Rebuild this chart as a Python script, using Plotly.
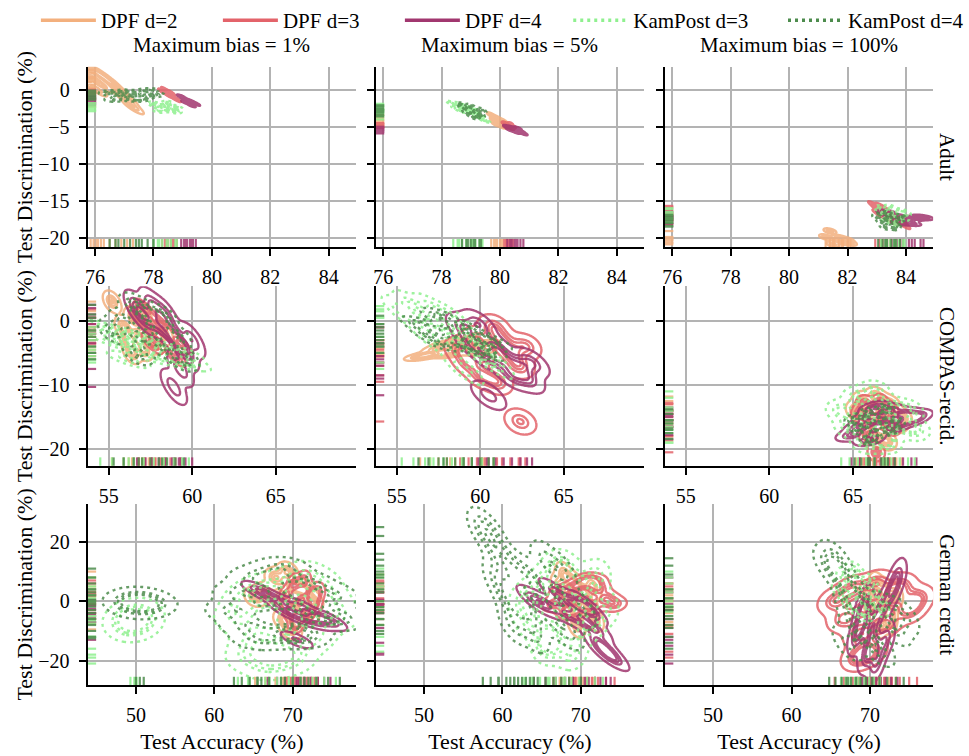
import numpy as np
import plotly.graph_objects as go
from plotly.subplots import make_subplots

# ---------------- labels / styles ----------------
SERIES = ["DPF d=2", "DPF d=3", "DPF d=4", "KamPost d=3", "KamPost d=4"]
COLORS = ["#f3b07e", "#e3636a", "#a1376f", "#8ff08f", "#4d8c4d"]
DASHES = ["solid", "solid", "solid", "3px,4px", "3px,4px"]
LEGEND_OF = ["legend", "legend", "legend", "legend2", "legend3"]

BIAS_TITLES = ["Maximum bias = 1%", "Maximum bias = 5%", "Maximum bias = 100%"]
DATASETS = ["Adult", "COMPAS-recid.", "German credit"]
X_TITLE = "Test Accuracy (%)"
Y_TITLE = "Test Discrimination (%)"

adult_x_ticks = [76, 78, 80, 82, 84]
adult_y_ticks = [0, -5, -10, -15, -20]
compas_x_ticks = [55, 60, 65]
compas_y_ticks = [0, -10, -20]
german_x_ticks = [50, 60, 70]
german_y_ticks = [20, 0, -20]

adult_x_range = [75.75, 84.93]
adult_y_range = [-21.2, 3.2]
compas_x_range = [53.75, 69.8]
compas_y_range = [-22.6, 5.4]
german_x_range = [43.86, 78.05]
german_y_range = [-28.3, 32.9]

# ---------------- data: (accuracy, discrimination) per run ----------------
# Adult, max bias 1%
adult_b1_dpf2_acc = [75.85, 75.95, 76.1, 76.3, 76.2, 76.5, 76.7, 76.9, 77.1, 77.3, 76.05]
adult_b1_dpf2_disc = [2.8, 1.6, 2.4, 1.8, 0.8, 1.2, 0.4, -0.4, -1.2, -2.2, 0.2]
adult_b1_dpf3_acc = [78.3, 78.4, 78.5, 78.6, 78.7, 78.8, 78.45, 78.65]
adult_b1_dpf3_disc = [-0.1, 0.1, -0.6, -0.3, -1.0, -1.2, -0.4, -0.8]
adult_b1_dpf4_acc = [78.95, 79.05, 79.15, 79.25, 79.35, 79.45, 79.1, 79.3]
adult_b1_dpf4_disc = [-0.8, -1.1, -1.3, -1.4, -1.6, -1.8, -1.6, -2.0]
adult_b1_kam3_acc = [78.0, 78.15, 78.3, 78.45, 78.6, 78.75, 78.2, 78.5, 78.8]
adult_b1_kam3_disc = [-1.8, -2.3, -2.0, -2.6, -2.2, -2.8, -2.7, -1.7, -2.4]
adult_b1_kam4_acc = [76.5, 76.8, 77.0, 77.2, 77.4, 77.6, 77.8, 78.0, 76.7, 77.5]
adult_b1_kam4_disc = [-0.3, -0.8, -0.2, -1.0, -0.4, -0.9, 0.0, -0.6, -1.2, -1.2]

# Adult, max bias 5%
adult_b5_dpf2_acc = [79.7, 79.8, 79.9, 80.0, 80.1, 80.2, 79.85, 80.05, 80.25]
adult_b5_dpf2_disc = [-3.3, -4.0, -3.7, -4.3, -4.1, -4.6, -4.5, -4.8, -4.9]
adult_b5_dpf3_acc = [80.15, 80.25, 80.35, 80.45, 80.2, 80.4, 80.3]
adult_b5_dpf3_disc = [-4.4, -4.6, -4.5, -4.9, -4.9, -5.1, -4.8]
adult_b5_dpf4_acc = [80.25, 80.4, 80.5, 80.6, 80.7, 80.8, 80.35, 80.55]
adult_b5_dpf4_disc = [-4.9, -5.0, -5.3, -5.1, -5.5, -5.8, -5.3, -5.6]
adult_b5_kam3_acc = [78.4, 78.55, 78.7, 78.85, 79.0, 79.15, 79.3, 79.4, 78.6, 79.05]
adult_b5_kam3_disc = [-1.8, -2.2, -2.0, -2.6, -2.9, -3.1, -3.5, -3.9, -2.6, -2.5]
adult_b5_kam4_acc = [78.7, 78.85, 79.0, 79.15, 79.3, 78.9, 79.1, 79.35]
adult_b5_kam4_disc = [-2.0, -2.5, -2.2, -2.8, -3.3, -3.0, -3.5, -2.7]

# Adult, max bias 100%
adult_b100_dpf2_acc = [81.25, 81.4, 81.55, 81.7, 81.85, 82.0, 82.1, 81.5, 81.8]
adult_b100_dpf2_disc = [-19.8, -19.0, -20.2, -19.9, -20.5, -20.2, -20.6, -20.8, -20.0]
adult_b100_dpf3_acc = [82.95, 83.1, 83.2, 83.35, 83.5, 83.65, 83.8, 83.9, 83.1, 83.45]
adult_b100_dpf3_disc = [-15.6, -16.2, -15.8, -16.6, -16.9, -17.3, -17.6, -18.1, -16.7, -17.5]
adult_b100_dpf4_acc = [83.3, 83.5, 83.7, 83.9, 84.1, 84.3, 84.5, 84.6, 83.8, 84.2]
adult_b100_dpf4_disc = [-16.4, -16.9, -17.0, -17.4, -17.6, -17.3, -17.1, -17.2, -17.9, -18.0]
adult_b100_kam3_acc = [83.15, 83.3, 83.45, 83.6, 83.75, 83.9, 83.35, 83.65, 83.95]
adult_b100_kam3_disc = [-16.0, -16.5, -15.9, -16.8, -16.4, -17.2, -17.4, -17.8, -16.6]
adult_b100_kam4_acc = [83.05, 83.2, 83.35, 83.5, 83.65, 83.8, 83.3, 83.6]
adult_b100_kam4_disc = [-17.0, -17.6, -16.8, -17.4, -17.9, -17.2, -18.3, -18.4]

# COMPAS, max bias 1%
compas_b1_dpf2_acc = [55.2, 55.9, 56.2, 56.5, 56.8, 57.1, 57.4, 57.8, 58.3, 56.4, 57.0]
compas_b1_dpf2_disc = [3.0, -1.0, -3.0, 0.5, -2.5, -4.5, -1.5, -3.5, -2.0, -5.0, 1.5]
compas_b1_dpf3_acc = [56.8, 57.2, 57.5, 57.8, 58.1, 58.4, 58.7, 59.0, 59.3, 57.6]
compas_b1_dpf3_disc = [0.5, 1.8, -1.0, -2.0, -0.5, -3.0, -4.0, -5.5, -3.5, -3.5]
compas_b1_dpf4_acc = [56.7, 57.2, 57.6, 58.0, 58.4, 58.8, 59.2, 59.6, 60.0, 59.3, 58.9]
compas_b1_dpf4_disc = [2.0, 0.5, 2.5, -0.5, 1.0, -2.0, -3.5, -5.0, -3.0, -7.5, -10.3]
compas_b1_kam3_acc = [54.5, 55.2, 55.9, 56.5, 57.1, 57.7, 58.3, 58.9, 59.4, 59.8, 56.2]
compas_b1_kam3_disc = [-1.0, -3.0, -2.0, -4.0, -3.0, -5.5, -4.5, -6.0, -5.0, -6.5, -6.0]
compas_b1_kam4_acc = [55.3, 55.9, 56.5, 57.0, 57.5, 58.0, 58.5, 59.0, 59.5, 56.8, 58.2]
compas_b1_kam4_disc = [-1.5, 0.0, 2.5, -2.5, 1.0, -1.5, -4.0, -2.5, -6.0, -5.0, 0.5]

# COMPAS, max bias 5%
compas_b5_dpf2_acc = [56.4, 57.0, 57.5, 58.0, 58.5, 59.0, 59.5, 60.0, 58.2, 60.2]
compas_b5_dpf2_disc = [-5.6, -5.2, -4.3, -3.6, -4.2, -3.0, -4.0, -4.8, -5.2, -3.6]
compas_b5_dpf3_acc = [58.8, 59.3, 59.8, 60.3, 60.8, 61.3, 61.8, 62.3, 62.7, 60.1, 61.0, 62.4]
compas_b5_dpf3_disc = [-4.5, -6.5, -3.0, -5.5, -1.0, -3.0, -5.0, -7.0, -4.0, -8.5, -9.5, -15.7]
compas_b5_dpf4_acc = [59.0, 59.5, 59.9, 60.4, 60.9, 61.4, 61.9, 62.4, 62.8, 63.1, 60.5]
compas_b5_dpf4_disc = [-1.0, -3.5, -0.5, -5.5, -4.0, -6.0, -8.5, -7.0, -9.0, -6.5, -11.6]
compas_b5_kam3_acc = [55.3, 56.0, 56.7, 57.2, 57.8, 58.3, 58.9, 59.5, 60.1, 60.8, 57.0, 59.0]
compas_b5_kam3_disc = [1.5, 2.3, 0.5, 1.8, -0.5, 0.5, -2.5, -4.0, -5.0, -6.5, -2.5, -7.5]
compas_b5_kam4_acc = [56.3, 56.9, 57.5, 58.0, 58.5, 59.0, 59.5, 60.0, 60.5, 60.8, 57.8]
compas_b5_kam4_disc = [-0.5, -2.0, 0.8, -1.5, -3.0, -1.0, -4.0, -2.5, -5.0, -3.5, -3.5]

# COMPAS, max bias 100%
compas_b100_dpf2_acc = [65.2, 65.6, 66.0, 66.4, 66.8, 67.2, 67.6, 67.9, 66.2, 67.0]
compas_b100_dpf2_disc = [-14.0, -12.5, -15.5, -11.8, -14.5, -13.0, -16.0, -15.0, -18.0, -18.7]
compas_b100_dpf3_acc = [65.4, 65.7, 66.0, 66.3, 66.6, 66.9, 67.2, 67.4, 66.4, 65.9]
compas_b100_dpf3_disc = [-14.5, -13.0, -16.0, -14.0, -12.8, -15.5, -14.0, -16.5, -20.5, -18.0]
compas_b100_dpf4_acc = [64.9, 65.4, 65.9, 66.3, 66.7, 67.1, 67.5, 68.0, 68.5, 68.8, 66.0]
compas_b100_dpf4_disc = [-17.8, -16.5, -15.0, -13.5, -15.5, -14.0, -16.5, -14.5, -15.5, -14.8, -18.5]
compas_b100_kam3_acc = [64.3, 64.8, 65.3, 65.8, 66.3, 66.8, 67.3, 67.8, 68.3, 68.7, 65.8, 67.0]
compas_b100_kam3_disc = [-14.0, -16.5, -12.0, -15.5, -11.0, -17.5, -13.5, -16.0, -14.0, -17.0, -19.0, -19.0]
compas_b100_kam4_acc = [65.1, 65.5, 65.9, 66.3, 66.7, 67.1, 67.5, 66.0, 66.9]
compas_b100_kam4_disc = [-15.5, -16.8, -14.5, -17.5, -15.5, -17.0, -16.0, -18.4, -13.8]

# German credit, max bias 1%
german_b1_dpf2_acc = [65.2, 66.5, 67.8, 68.6, 69.3, 70.0, 70.7, 71.4, 72.0, 72.5, 69.8, 68.9]
german_b1_dpf2_disc = [1.5, 3.0, 8.0, 2.0, 10.0, 5.0, -1.0, 4.0, -4.0, 0.0, -9.5, -6.0]
german_b1_dpf3_acc = [69.2, 69.7, 70.2, 70.6, 71.0, 71.4, 71.8, 72.3, 72.8, 73.2, 70.4]
german_b1_dpf3_disc = [2.0, -3.0, 6.0, -6.0, 0.0, 7.0, -4.0, 2.5, -1.0, 3.0, -7.5]
german_b1_dpf4_acc = [65.5, 66.8, 68.0, 69.0, 70.0, 70.8, 71.5, 72.3, 73.2, 74.0, 74.8, 70.5]
german_b1_dpf4_disc = [4.0, 2.0, 0.5, -2.5, -4.0, -1.5, -6.0, -4.5, -7.0, -5.5, -7.0, -13.0]
german_b1_kam3_acc = [49.3, 50.1, 49.8, 63.0, 64.3, 65.5, 66.5, 68.0, 69.5, 71.0, 72.5, 74.0, 75.5, 67.0, 70.0, 73.0, 64.5, 68.5]
german_b1_kam3_disc = [-6.5, -5.0, -7.5, -5.0, 1.0, -12.0, 4.0, -16.0, -6.0, 8.0, -12.0, 0.0, -5.0, -21.0, -19.0, 5.0, -18.0, 2.0]
german_b1_kam4_acc = [50.0, 51.0, 50.5, 62.5, 63.5, 64.5, 65.5, 67.0, 68.5, 70.0, 71.5, 73.0, 74.5, 76.0, 66.0, 71.0, 69.0, 72.0]
german_b1_kam4_disc = [0.5, -0.5, -1.8, -3.0, 3.0, -8.0, 8.0, -1.0, 11.0, -10.0, 6.0, -4.0, 2.0, -6.0, -12.5, -12.0, 4.0, 0.0]

# German credit, max bias 5%
german_b5_dpf2_acc = [67.3, 67.9, 68.5, 69.1, 69.7, 70.3, 70.9, 71.5, 71.8, 69.4]
german_b5_dpf2_disc = [5.0, 9.0, 0.0, 6.0, -4.0, 3.0, -1.0, 5.0, -6.0, -8.0]
german_b5_dpf3_acc = [66.5, 67.5, 68.5, 69.3, 70.0, 70.7, 71.4, 72.2, 73.2, 74.3, 69.0, 71.8]
german_b5_dpf3_disc = [-1.0, 3.0, -3.0, 5.0, 0.5, 7.0, -2.0, 4.0, 1.0, -1.0, -3.5, 6.5]
german_b5_dpf4_acc = [64.0, 65.5, 66.8, 68.0, 69.0, 70.0, 71.0, 71.8, 72.5, 73.2, 73.8, 70.5]
german_b5_dpf4_disc = [0.5, -1.0, 3.0, -4.0, -1.0, -6.0, -3.0, -9.0, -14.0, -17.5, -18.0, -1.5]
german_b5_kam3_acc = [62.8, 63.8, 64.8, 65.8, 66.8, 67.8, 68.8, 69.8, 70.8, 71.8, 72.8, 66.0, 68.0]
german_b5_kam3_disc = [0.0, -6.0, 5.0, -12.0, 11.0, -2.0, -17.0, 4.0, -8.0, 8.0, -3.0, -15.0, 9.0]
german_b5_kam4_acc = [57.5, 58.5, 59.5, 60.5, 61.0, 61.5, 62.0, 62.5, 63.0, 63.5, 64.5, 65.5, 66.5, 67.5, 68.5, 70.0, 59.5, 61.5, 64.0]
german_b5_kam4_disc = [25.0, 22.0, 8.0, 3.0, 12.0, -2.0, 6.0, 0.0, 9.0, -4.0, 4.0, 14.0, -6.0, 10.0, -10.0, -3.0, 16.0, -8.0, -11.0]

# German credit, max bias 100%
german_b100_dpf2_acc = [69.6, 70.2, 70.8, 71.4, 72.0, 72.6, 73.3, 71.2, 72.4]
german_b100_dpf2_disc = [3.0, -2.0, 6.0, 0.0, 4.0, -4.0, 2.0, -8.5, -7.0]
german_b100_dpf3_acc = [65.5, 66.7, 67.8, 68.8, 69.8, 70.8, 71.8, 72.8, 73.8, 75.0, 76.0, 70.0, 68.5]
german_b100_dpf3_disc = [0.0, -6.0, 4.0, -11.0, -2.0, 6.0, -8.0, 1.0, 5.0, -3.0, 1.0, -17.0, -19.0]
german_b100_dpf4_acc = [68.3, 69.0, 69.6, 70.2, 70.8, 71.4, 72.0, 72.7, 73.5, 70.5, 69.3]
german_b100_dpf4_disc = [-12.0, -6.0, -18.0, -9.0, -21.0, -3.0, -13.0, 3.0, 8.0, -15.0, -1.0]
german_b100_kam3_acc = [66.3, 66.9, 67.5, 68.1, 68.7, 69.3, 69.9, 70.5, 71.3, 68.4]
german_b100_kam3_disc = [4.0, 8.0, 0.0, 10.0, 3.0, -3.5, 6.0, 1.0, -2.0, -1.5]
german_b100_kam4_acc = [64.8, 65.6, 66.4, 67.0, 67.6, 68.2, 68.8, 69.5, 70.3, 71.2, 72.2, 73.3, 74.3, 67.2]
german_b100_kam4_disc = [12.0, 14.5, 9.0, 4.0, -2.0, -8.0, 1.0, -12.0, -6.0, -16.0, -3.0, -9.0, -5.0, -14.0]

PANELS = [
    [
        [(adult_b1_dpf2_acc, adult_b1_dpf2_disc), (adult_b1_dpf3_acc, adult_b1_dpf3_disc),
         (adult_b1_dpf4_acc, adult_b1_dpf4_disc), (adult_b1_kam3_acc, adult_b1_kam3_disc),
         (adult_b1_kam4_acc, adult_b1_kam4_disc)],
        [(adult_b5_dpf2_acc, adult_b5_dpf2_disc), (adult_b5_dpf3_acc, adult_b5_dpf3_disc),
         (adult_b5_dpf4_acc, adult_b5_dpf4_disc), (adult_b5_kam3_acc, adult_b5_kam3_disc),
         (adult_b5_kam4_acc, adult_b5_kam4_disc)],
        [(adult_b100_dpf2_acc, adult_b100_dpf2_disc), (adult_b100_dpf3_acc, adult_b100_dpf3_disc),
         (adult_b100_dpf4_acc, adult_b100_dpf4_disc), (adult_b100_kam3_acc, adult_b100_kam3_disc),
         (adult_b100_kam4_acc, adult_b100_kam4_disc)],
    ],
    [
        [(compas_b1_dpf2_acc, compas_b1_dpf2_disc), (compas_b1_dpf3_acc, compas_b1_dpf3_disc),
         (compas_b1_dpf4_acc, compas_b1_dpf4_disc), (compas_b1_kam3_acc, compas_b1_kam3_disc),
         (compas_b1_kam4_acc, compas_b1_kam4_disc)],
        [(compas_b5_dpf2_acc, compas_b5_dpf2_disc), (compas_b5_dpf3_acc, compas_b5_dpf3_disc),
         (compas_b5_dpf4_acc, compas_b5_dpf4_disc), (compas_b5_kam3_acc, compas_b5_kam3_disc),
         (compas_b5_kam4_acc, compas_b5_kam4_disc)],
        [(compas_b100_dpf2_acc, compas_b100_dpf2_disc), (compas_b100_dpf3_acc, compas_b100_dpf3_disc),
         (compas_b100_dpf4_acc, compas_b100_dpf4_disc), (compas_b100_kam3_acc, compas_b100_kam3_disc),
         (compas_b100_kam4_acc, compas_b100_kam4_disc)],
    ],
    [
        [(german_b1_dpf2_acc, german_b1_dpf2_disc), (german_b1_dpf3_acc, german_b1_dpf3_disc),
         (german_b1_dpf4_acc, german_b1_dpf4_disc), (german_b1_kam3_acc, german_b1_kam3_disc),
         (german_b1_kam4_acc, german_b1_kam4_disc)],
        [(german_b5_dpf2_acc, german_b5_dpf2_disc), (german_b5_dpf3_acc, german_b5_dpf3_disc),
         (german_b5_dpf4_acc, german_b5_dpf4_disc), (german_b5_kam3_acc, german_b5_kam3_disc),
         (german_b5_kam4_acc, german_b5_kam4_disc)],
        [(german_b100_dpf2_acc, german_b100_dpf2_disc), (german_b100_dpf3_acc, german_b100_dpf3_disc),
         (german_b100_dpf4_acc, german_b100_dpf4_disc), (german_b100_kam3_acc, german_b100_kam3_disc),
         (german_b100_kam4_acc, german_b100_kam4_disc)],
    ],
]

ROW_X_TICKS = [adult_x_ticks, compas_x_ticks, german_x_ticks]
ROW_Y_TICKS = [adult_y_ticks, compas_y_ticks, german_y_ticks]
ROW_X_RANGE = [adult_x_range, compas_x_range, german_x_range]
ROW_Y_RANGE = [adult_y_range, compas_y_range, german_y_range]

# ---------------- layout geometry ----------------
W, H = 969, 756
COL_PX = [(85, 354), (374, 643), (664, 933)]
ROW_PX = [(67, 248), (287, 467), (505, 687)]
FONT = "Liberation Serif"
BW_ADJUST = 0.6
ISO_LEVELS = dict(start=0.05, end=0.77, size=0.2375)


def fmt(v):
    return ("\u2212" + str(abs(v))) if v < 0 else str(v)


def kde_isoprop(acc, disc, n=180):
    data = np.vstack([acc, disc]).astype(float)
    m = data.shape[1]
    f = (m ** (-1.0 / 6.0)) * BW_ADJUST
    full = np.cov(data)
    sd = np.sqrt(np.diag(full))
    iqr = np.subtract(*np.percentile(data, [75, 25], axis=1))
    rsd = np.minimum(sd, iqr / 1.349)
    corr = full / np.outer(sd, sd)
    cov = corr * np.outer(rsd, rsd) * f * f
    inv = np.linalg.inv(cov)
    bw = np.sqrt(np.diag(cov))
    gx = np.linspace(data[0].min() - 4 * bw[0], data[0].max() + 4 * bw[0], n)
    gy = np.linspace(data[1].min() - 4 * bw[1], data[1].max() + 4 * bw[1], n)
    X, Y = np.meshgrid(gx, gy)
    dens = np.zeros_like(X)
    for i in range(m):
        dx = X - data[0, i]
        dy = Y - data[1, i]
        q = inv[0, 0] * dx * dx + 2 * inv[0, 1] * dx * dy + inv[1, 1] * dy * dy
        dens += np.exp(-0.5 * q)
    flat = dens.ravel()
    order = np.argsort(flat)[::-1]
    cum = np.cumsum(flat[order]) / flat.sum()
    iso = np.empty_like(flat)
    iso[order] = 1.0 - cum
    return gx, gy, iso.reshape(dens.shape)


fig = make_subplots(rows=3, cols=3)

for r in range(3):
    for c in range(3):
        k = r * 3 + c + 1
        xa = "x" if k == 1 else f"x{k}"
        ya = "y" if k == 1 else f"y{k}"
        xr, yr = ROW_X_RANGE[r], ROW_Y_RANGE[r]
        wpx = COL_PX[c][1] - COL_PX[c][0]
        hpx = ROW_PX[r][1] - ROW_PX[r][0]
        y_rug = yr[0] + (yr[1] - yr[0]) * 3.5 / hpx
        x_rug = xr[0] + (xr[1] - xr[0]) * 3.5 / wpx
        for s, (acc, disc) in enumerate(PANELS[r][c]):
            gx, gy, iso = kde_isoprop(acc, disc)
            fig.add_trace(go.Contour(
                x=gx, y=gy, z=iso, autocontour=False,
                contours=dict(ISO_LEVELS, coloring="lines", showlabels=False),
                colorscale=[[0, COLORS[s]], [1, COLORS[s]]], showscale=False,
                line=dict(width=2.4, dash=DASHES[s], smoothing=1.0),
                opacity=0.85, hoverinfo="skip", showlegend=False,
                xaxis=xa, yaxis=ya))
        for s, (acc, disc) in enumerate(PANELS[r][c]):
            fig.add_trace(go.Scatter(
                x=acc, y=[y_rug] * len(acc), mode="markers",
                marker=dict(symbol="line-ns", size=7, line=dict(width=2.2, color=COLORS[s])),
                opacity=0.85, hoverinfo="skip", showlegend=False, xaxis=xa, yaxis=ya))
            fig.add_trace(go.Scatter(
                x=[x_rug] * len(disc), y=disc, mode="markers",
                marker=dict(symbol="line-ew", size=7, line=dict(width=2.2, color=COLORS[s])),
                opacity=0.85, hoverinfo="skip", showlegend=False, xaxis=xa, yaxis=ya))

# legend entries
for s in range(5):
    fig.add_trace(go.Scatter(x=[None], y=[None], mode="lines", name=SERIES[s],
                             legend=LEGEND_OF[s],
                             line=dict(color=COLORS[s], width=3.5, dash=DASHES[s])))

axis_common = dict(showline=True, linecolor="black", linewidth=2.2, ticks="outside",
                   ticklen=7, tickwidth=2, tickcolor="black", showgrid=True,
                   gridcolor="#b3b3b3", gridwidth=1.6, zeroline=False, mirror=False,
                   tickfont=dict(family=FONT, size=20, color="black"))

for r in range(3):
    for c in range(3):
        k = r * 3 + c + 1
        xkey = "xaxis" if k == 1 else f"xaxis{k}"
        ykey = "yaxis" if k == 1 else f"yaxis{k}"
        xa = "x" if k == 1 else f"x{k}"
        ya = "y" if k == 1 else f"y{k}"
        xd = [COL_PX[c][0] / W, COL_PX[c][1] / W]
        yd = [1 - ROW_PX[r][1] / H, 1 - ROW_PX[r][0] / H]
        xt = ROW_X_TICKS[r]
        yt = ROW_Y_TICKS[r]
        xopts = dict(axis_common, domain=xd, anchor=ya, range=ROW_X_RANGE[r], tickvals=xt,
                     ticktext=[fmt(v) for v in xt], ticklabelstandoff=4)
        yopts = dict(axis_common, domain=yd, anchor=xa, range=ROW_Y_RANGE[r], tickvals=yt,
                     ticktext=[fmt(v) for v in yt], showticklabels=(c == 0),
                     ticklabelstandoff=5)
        if r == 2:
            xopts["title"] = dict(text=X_TITLE, font=dict(family=FONT, size=22, color="black"),
                                  standoff=8)
        if c == 0:
            yopts["title"] = dict(text=Y_TITLE, font=dict(family=FONT, size=22, color="black"),
                                  standoff=0)
        fig.layout[xkey] = xopts
        fig.layout[ykey] = yopts

annotations = []
for c in range(3):
    annotations.append(dict(text=BIAS_TITLES[c], x=(COL_PX[c][0] + COL_PX[c][1]) / 2 / W,
                            y=1 - 45 / H, xref="paper", yref="paper", showarrow=False,
                            xanchor="center", yanchor="middle",
                            font=dict(family=FONT, size=21, color="black")))
for r in range(3):
    annotations.append(dict(text=DATASETS[r], x=947 / W,
                            y=1 - (ROW_PX[r][0] + ROW_PX[r][1]) / 2 / H,
                            xref="paper", yref="paper", showarrow=False, textangle=90,
                            xanchor="center", yanchor="middle",
                            font=dict(family=FONT, size=21, color="black")))

legend_common = dict(orientation="h", y=1.0, yanchor="top",
                     font=dict(family=FONT, size=21, color="black"),
                     bgcolor="rgba(0,0,0,0)", itemwidth=55, tracegroupgap=0)

fig.update_layout(
    width=W, height=H, margin=dict(l=0, r=0, t=0, b=0),
    paper_bgcolor="white", plot_bgcolor="white",
    font=dict(family=FONT, size=20, color="black"),
    annotations=annotations,
    showlegend=True,
    legend=dict(legend_common, x=33 / W, xanchor="left", entrywidth=112,
                entrywidthmode="pixels"),
    legend2=dict(legend_common, x=567 / W, xanchor="left"),
    legend3=dict(legend_common, x=1.0, xanchor="right"),
)

fig.write_html("out.html", config={"displayModeBar": False},
               post_script="document.body.style.margin='0';document.body.style.overflow='hidden';")
